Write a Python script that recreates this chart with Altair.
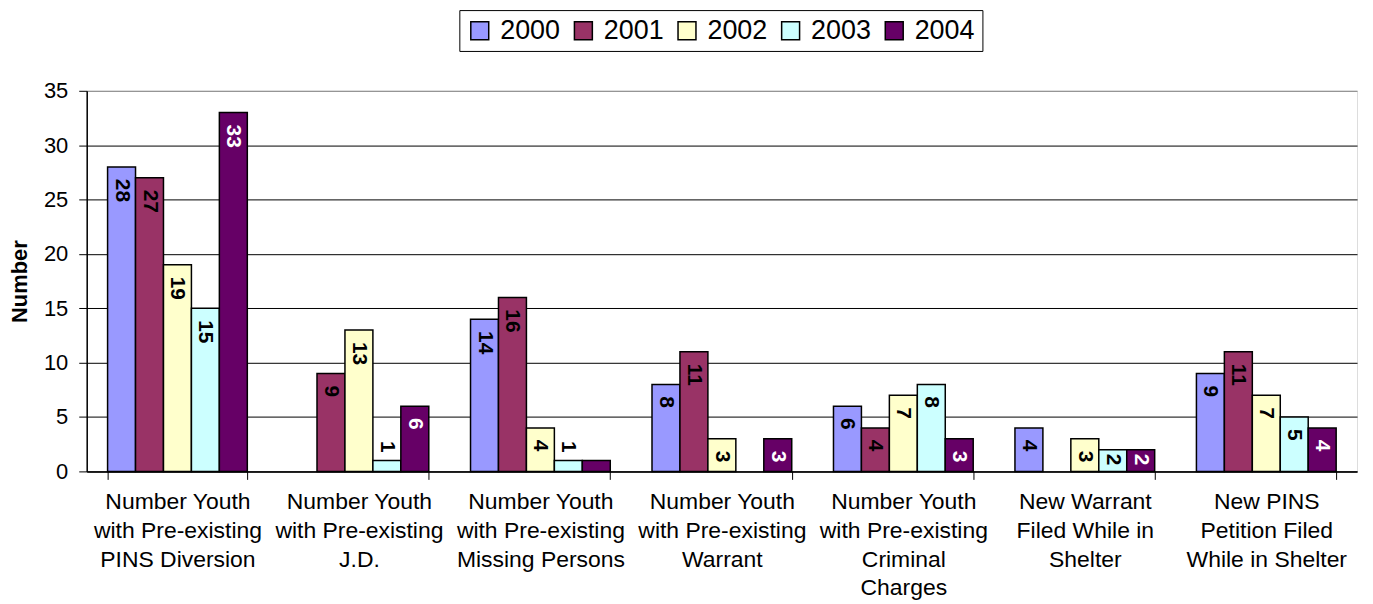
import altair as alt
import pandas as pd

categories = [
    "Number Youth\nwith Pre-existing\nPINS Diversion",
    "Number Youth\nwith Pre-existing\nJ.D.",
    "Number Youth\nwith Pre-existing\nMissing Persons",
    "Number Youth\nwith Pre-existing\nWarrant",
    "Number Youth\nwith Pre-existing\nCriminal\nCharges",
    "New Warrant\nFiled While in\nShelter",
    "New PINS\nPetition Filed\nWhile in Shelter",
]
years = ["2000", "2001", "2002", "2003", "2004"]
v2000 = [28, None, 14, 8, 6, 4, 9]
v2001 = [27, 9, 16, 11, 4, None, 11]
v2002 = [19, 13, 4, 3, 7, 3, 7]
v2003 = [15, 1, 1, None, 8, 2, 5]
v2004 = [33, 6, 1, 3, 3, 2, 4]
colors = ["#9999FF", "#993366", "#FFFFCC", "#CCFFFF", "#660066"]

series = [v2000, v2001, v2002, v2003, v2004]
rows = []
for y, vals in zip(years, series):
    for c, v in zip(categories, vals):
        rows.append({"category": c, "year": y, "value": v})
df = pd.DataFrame(rows)

FONT = "Liberation Sans"

base = alt.Chart(df).encode(
    x=alt.X(
        "category:N",
        sort=categories,
        scale=alt.Scale(paddingInner=0.23, paddingOuter=0.115),
        axis=alt.Axis(
            title=None,
            labelAngle=0,
            labelExpr="split(datum.label, '\\n')",
            labelFontSize=23,
            labelLineHeight=29,
            labelPadding=11,
            labelColor="black",
            labelFont=FONT,
            tickBand="extent",
            tickSize=8,
            tickColor="black",
            domainColor="black",
            domainWidth=1.5,
            grid=False,
        ),
    ),
    xOffset=alt.XOffset("year:N", sort=years, scale=alt.Scale(paddingInner=0, paddingOuter=0)),
)

bars = base.mark_bar(stroke="black", strokeWidth=1.5).encode(
    y=alt.Y(
        "value:Q",
        scale=alt.Scale(domain=[0, 35], nice=False),
        axis=alt.Axis(
            title="Number",
            titleFontSize=22,
            titleFontWeight="bold",
            titleFont=FONT,
            titleColor="black",
            titlePadding=12,
            values=[0, 5, 10, 15, 20, 25, 30, 35],
            labelFontSize=22,
            labelFont=FONT,
            labelColor="black",
            labelPadding=11,
            tickSize=8,
            tickColor="black",
            domainColor="black",
            domainWidth=1.5,
            grid=True,
            gridColor={"condition": {"test": "datum.value >= 35", "value": "#808080"}, "value": "#000000"},
            gridWidth=1,
        ),
    ),
    color=alt.Color(
        "year:N",
        sort=years,
        scale=alt.Scale(domain=years, range=colors),
        legend=alt.Legend(
            title=None,
            orient="none",
            legendX=374,
            legendY=-81,
            direction="horizontal",
            columns=5,
            symbolType="square",
            symbolSize=324,
            symbolStrokeColor="black",
            symbolStrokeWidth=1.5,
            symbolOpacity=1,
            labelFontSize=27,
            labelFont=FONT,
            labelColor="black",
            labelOffset=7,
            columnPadding=9,
            padding=7,
            strokeColor="black",
            fillColor="white",
        ),
    ),
)

label_color = alt.condition("datum.year === '2004'", alt.value("white"), alt.value("black"))

inside = base.transform_filter("isValid(datum.value) && datum.value >= 3").mark_text(
    angle=90, align="left", baseline="middle", dx=12, fontSize=21, fontWeight="bold", font=FONT
).encode(y="value:Q", text=alt.Text("value:Q"), color=label_color)

inside_small = base.transform_filter("isValid(datum.value) && datum.value == 2").mark_text(
    angle=90, align="left", baseline="middle", dx=4, fontSize=21, fontWeight="bold", font=FONT
).encode(y="value:Q", text=alt.Text("value:Q"), color=label_color)

above = base.transform_filter("isValid(datum.value) && datum.value < 2").mark_text(
    angle=90, align="right", baseline="middle", dx=-8, fontSize=21, fontWeight="bold", font=FONT
).encode(y="value:Q", text=alt.Text("value:Q"), color=label_color)

chart = (
    alt.layer(bars, inside, inside_small, above)
    .properties(
        width=1275,
        height=382,
        autosize="none",
        padding={"left": 79, "top": 82, "right": 8, "bottom": 134},
    )
    .configure_view(fill="#C0C0C0", stroke="#808080", strokeWidth=1.5)
    .configure(font=FONT)
)

chart.save("out.html", embed_options={"renderer": "svg", "actions": False})
